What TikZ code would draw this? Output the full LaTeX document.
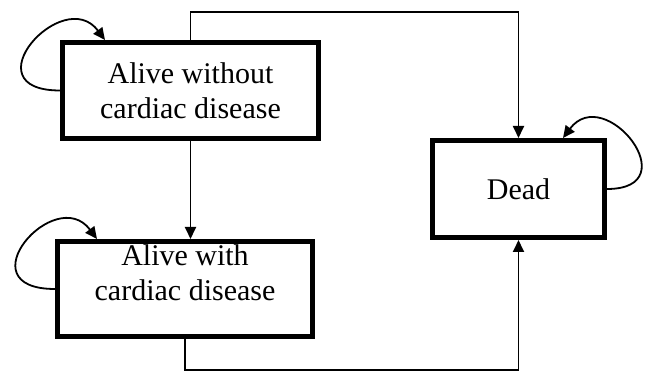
\documentclass[tikz,border=0pt]{standalone}
\usepackage{fontspec}
\setmainfont{Liberation Serif}
\usetikzlibrary{arrows.meta}

\begin{document}
\begin{tikzpicture}[x=1pt,y=1pt,
            state/.style={draw,line width=5pt,minimum width=256pt,minimum height=96pt,inner sep=0pt,align=center,font=\fontsize{30}{35}\selectfont},
            statetext/.style={align=center,font=\fontsize{30}{35}\selectfont},
            to/.style={-{Triangle[length=12pt,width=11pt]},line width=1.8pt}]

            \useasboundingbox (0,0) rectangle (649,372);

            \node[state] (alive) at (190.5,281.5) {Alive without\\cardiac disease};
            \node[state,minimum width=255pt,minimum height=95pt] (withcd) at (185,83) {};
            \node[statetext] (withcdtext) at (185,99) {Alive with\\cardiac disease};
            \node[state,minimum width=172pt,minimum height=97pt] (dead) at (518.5,183) {Dead};

            \draw[to] (alive.north) -- ++(0,28) -| (dead.north);
            \draw[to] (alive.south) -- (alive.south |- withcd.north);
            \draw[to] (withcd.south) -- ++(0,-31) -| (dead.south);

            % self transitions
            \draw[to] (alive.west) .. controls +(-92,0) and +(-42,56) .. ([xshift=45pt]alive.north west);
            \draw[to] (withcd.west) .. controls +(-92,0) and +(-42,56) .. ([xshift=42pt]withcd.north west);
            \draw[to] (dead.east) .. controls +(82,0) and +(42,56) .. ([xshift=-44pt]dead.north east);
        \end{tikzpicture}
\end{document}
